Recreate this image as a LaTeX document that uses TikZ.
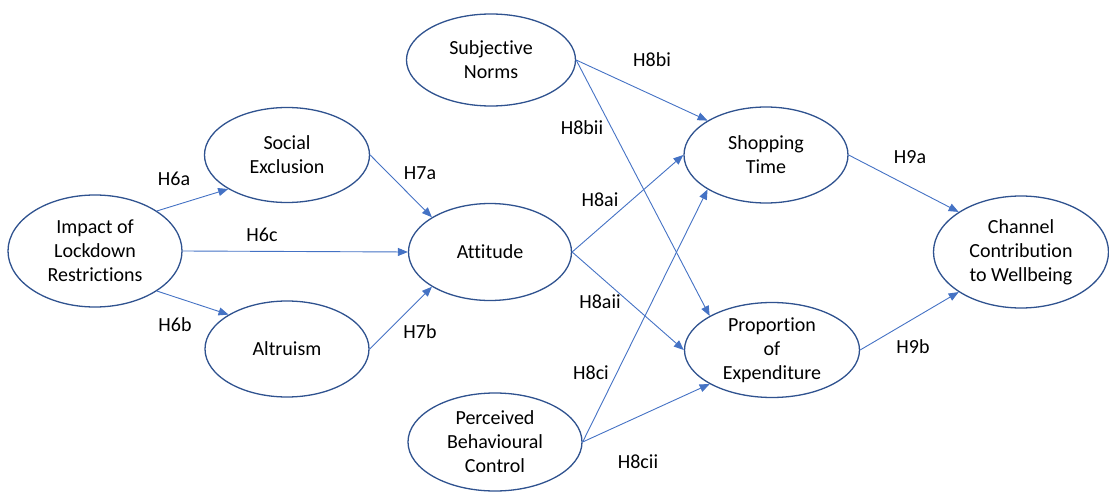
\documentclass[tikz,border=0pt]{standalone}
\usepackage{fontspec}
\setmainfont{Carlito}[Ligatures=NoCommon]
\usetikzlibrary{shapes.geometric,arrows.meta}
\definecolor{rim}{HTML}{2F528F}
\definecolor{link}{HTML}{4472C4}
\begin{document}
\begin{tikzpicture}[x=1pt,y=-1pt,
  construct/.style={ellipse,draw=rim,line width=1.3pt,fill=white,inner sep=0pt,align=center,
    font=\fontsize{20}{24}\selectfont},
  path/.style={draw=link,line width=0.9pt,-{Triangle[length=10pt,width=8pt]}},
  hyp/.style={font=\fontsize{20}{24}\selectfont}]
\useasboundingbox (0,0) rectangle (1109,492);
% constructs
\node[construct,minimum width=174pt,minimum height=112pt] (imp) at (95,251) {Impact of\\Lockdown\\Restrictions};
\node[construct,minimum width=165pt,minimum height=95pt] (soc) at (287,155) {Social\\Exclusion};
\node[construct,minimum width=164pt,minimum height=96pt] (alt) at (287,349) {Altruism};
\node[construct,minimum width=163pt,minimum height=97pt] (att) at (490,252) {Attitude};
\node[construct,minimum width=169pt,minimum height=92pt] (sn) at (491,60) {Subjective\\Norms};
\node[construct,minimum width=174pt,minimum height=98pt] (pbc) at (495,442) {Perceived\\Behavioural\\Control};
\node[construct,minimum width=164pt,minimum height=96pt] (shop) at (766,155) {Shopping\\Time};
\node[construct,minimum width=175pt,minimum height=95pt] (prop) at (772,350) {Proportion\\of\\Expenditure};
\node[construct,minimum width=175pt,minimum height=112pt] (ch) at (1021,252) {Channel\\Contribution\\to Wellbeing};
% hypothesised paths
\draw[path] (imp.north east) -- (soc.south west);
\draw[path] (imp.east) -- (att.west);
\draw[path] (imp.south east) -- (alt.north west);
\draw[path] (soc.east) -- (att.north west);
\draw[path] (alt.east) -- (att.south west);
\draw[path] (sn.east) -- (shop.north west);
\draw[path] (sn.east) -- (prop.north west);
\draw[path] (att.east) -- (shop.west);
\draw[path] (att.east) -- (prop.west);
\draw[path] (pbc.east) -- (shop.south west);
\draw[path] (pbc.east) -- (prop.south west);
\draw[path] (shop.east) -- (ch.north west);
\draw[path] (prop.east) -- (ch.south west);
% hypothesis labels
\node[hyp] (h6a) at (174,179) {H6a};
\node[hyp] (h6c) at (262,235) {H6c};
\node[hyp] (h6b) at (175,325) {H6b};
\node[hyp] (h7a) at (420,173) {H7a};
\node[hyp] (h7b) at (420,332) {H7b};
\node[hyp] (h8bi) at (652,60) {H8bi};
\node[hyp] (h8bii) at (582,128) {H8bii};
\node[hyp] (h8ai) at (600,200) {H8ai};
\node[hyp] (h8aii) at (600,302) {H8aii};
\node[hyp] (h8ci) at (591,373) {H8ci};
\node[hyp] (h8cii) at (638,462) {H8cii};
\node[hyp] (h9a) at (910,157) {H9a};
\node[hyp] (h9b) at (913,347) {H9b};
\end{tikzpicture}
\end{document}
